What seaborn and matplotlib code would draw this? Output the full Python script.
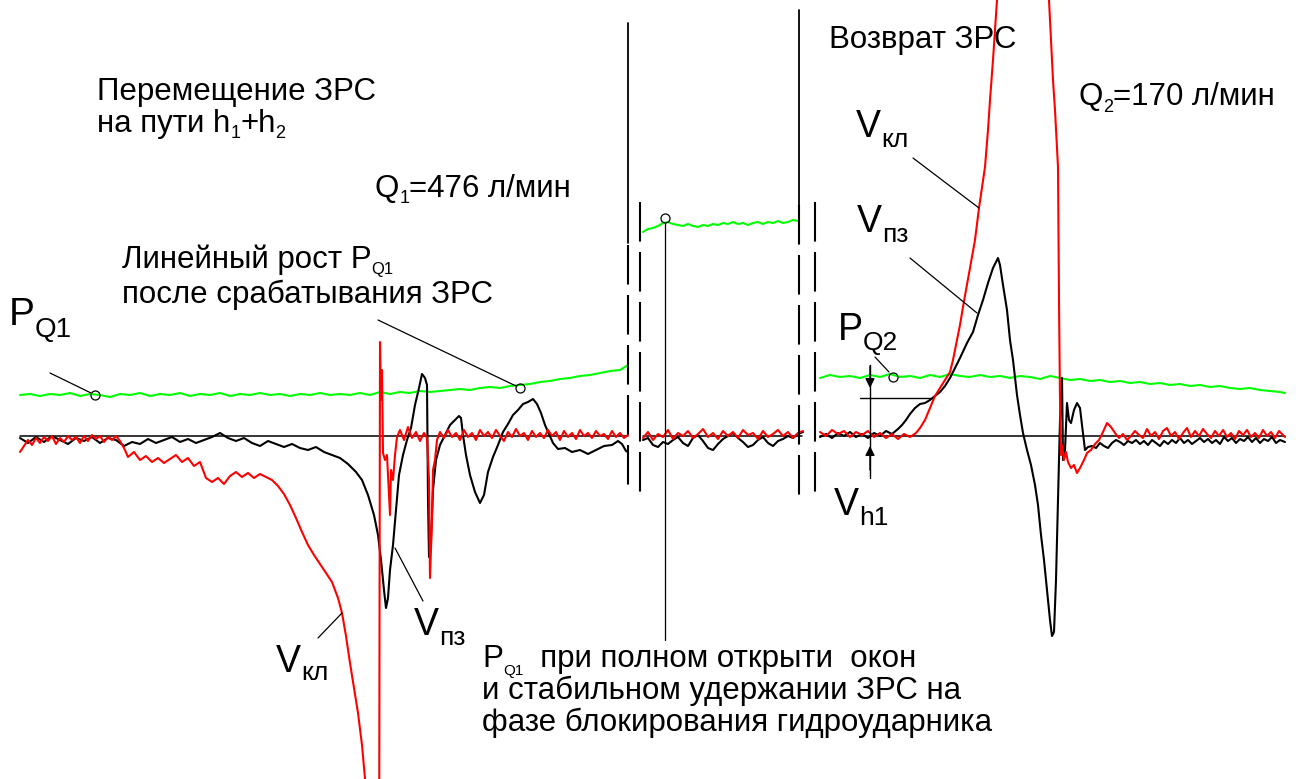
import numpy as np
import pandas as pd
import matplotlib
matplotlib.use("Agg")
import matplotlib.pyplot as plt
import seaborn as sns

# ---------------- DATA: (time, level) samples ----------------
# window 1 (before the break), window 2 (blocking phase), window 3 (return)
green_1 = [(20,395),(30,394),(40,396),(50,394),(60,395),(70,393),(80,396),(90,394),(100,395),(110,397),
           (120,394),(130,395),(140,393),(150,396),(160,394),(170,395),(180,393),(190,396),(200,394),(210,395),
           (220,393),(230,396),(240,394),(250,395),(260,393),(270,395),(280,394),(290,396),(300,394),(310,395),
           (320,393),(330,395),(340,394),(350,395),(360,393),(370,395),(380,392),(390,394),(400,392),(410,393),
           (420,391),(430,392),(440,391),(450,390),(460,389),(470,390),(480,388),(490,387),(500,388),(510,386),
           (520,385),(530,384),(540,382),(550,381),(560,379),(570,378),(580,376),(590,375),(600,373),(610,371),
           (620,370),(628,365)]
black_1 = [(20,438),(28,443),(36,437),(44,442),(52,436),(60,440),(68,444),(76,438),(84,441),(92,437),(100,443),
           (108,438),(116,440),(124,446),(132,442),(140,444),(148,439),(156,443),(164,440),(172,437),(180,442),
           (188,439),(196,443),(204,440),(212,437),(220,433),(228,438),(236,441),(244,438),(252,443),(260,446),
           (268,441),(276,444),(284,447),(292,444),(300,448),(308,450),(316,447),(324,452),(332,455),(340,458),
           (348,464),(356,472),(362,480),(368,495),(374,515),(378,535),(381,560),(384,590),(386,608),(388,598),
           (390,570),(393,545),(396,510),(399,475),(403,455),(407,440),(411,428),(415,405),(419,388),(422,374),
           (425,378),(427,385),(428,500),(429,557),(431,540),(433,490),(436,460),(440,445),(445,435),(450,425),
           (455,420),(459,416),(461,418),(463,435),(466,455),(470,475),(475,492),(480,503),(484,495),(488,472),
           (493,457),(498,445),(503,432),(508,424),(513,415),(518,410),(523,404),(528,402),(533,399),(537,404),
           (541,413),(545,425),(549,434),(553,443),(558,449),(565,448),(572,452),(580,450),(588,454),(596,450),
           (604,446),(612,445),(618,441),(622,444),(626,451),(628,452)]
red_1 = [(20,452),(24,446),(28,440),(32,445),(36,438),(40,443),(44,437),(48,441),(52,436),(56,444),(60,438),
         (64,442),(68,436),(72,440),(76,437),(80,443),(84,436),(88,441),(92,435),(96,439),(100,436),(104,442),
         (108,437),(112,440),(116,436),(120,441),(124,448),(128,457),(134,452),(140,460),(146,456),(152,462),
         (158,458),(164,463),(170,459),(176,455),(182,462),(188,458),(194,466),(200,462),(206,478),(212,482),
         (218,478),(224,484),(230,476),(236,472),(242,477),(248,473),(254,478),(260,474),(266,477),(272,480),
         (278,486),(284,494),(290,505),(296,518),(302,532),(308,545),(314,555),(320,564),(326,573),(332,582),
         (338,598),(342,613),(346,636),(350,663),(354,688),(358,713),(362,745),(365,778),(370,860),(378,950),
         (379,950),(380,342),(381,400),(382,370),(383,453),(385,460),(387,455),(388,475),(390,515),(391,470),
         (393,480),(395,455),(397,437),(400,430),(404,440),(408,427),(412,438),(416,432),(420,441),(424,433),
         (427,438),(429,480),(430,578),(432,520),(433,470),(435,460),(437,440),(440,432),(444,438),(448,430),
         (452,437),(456,433),(460,440),(464,430),(468,437),(472,433),(476,440),(480,430),(484,436),(488,432),
         (492,438),(496,430),(500,436),(504,441),(508,432),(512,437),(516,429),(520,436),(524,433),(528,440),
         (532,431),(536,437),(540,433),(544,438),(548,430),(552,436),(556,432),(560,440),(564,431),(568,437),
         (572,433),(576,439),(580,430),(584,436),(588,433),(592,438),(596,431),(600,436),(604,434),(608,439),
         (612,431),(616,437),(620,433),(624,438),(628,435)]

green_2 = [(643,232),(648,229),(653,228),(658,226),(663,223),(668,222),(673,224),(678,225),(683,226),(688,224),
           (693,226),(698,227),(703,225),(708,226),(713,224),(718,225),(723,223),(728,224),(733,222),(738,224),
           (743,223),(748,225),(753,223),(758,222),(763,224),(768,222),(773,223),(778,221),(783,223),(788,222),
           (793,220),(798,221)]
t_2 = list(range(643, 804, 5))
black_2 = [440,438,445,447,442,444,440,437,443,446,438,435,441,448,450,444,439,436,433,438,442,447,445,440,
           437,443,446,441,439,436,438,434,432]
red_2 = [438,432,440,434,437,430,439,433,436,431,438,434,429,437,433,439,431,436,432,438,430,435,433,439,
         431,437,434,430,436,432,438,433,431]

green_3 = [(820,378),(830,375),(840,377),(850,376),(860,378),(870,375),(880,377),(890,374),(900,377),(910,376),
           (920,378),(930,375),(940,377),(950,374),(960,376),(970,377),(980,375),(990,377),(1000,376),(1010,378),
           (1020,376),(1030,377),(1040,379),(1050,376),(1060,378),(1070,380),(1080,379),(1090,381),(1100,380),
           (1110,382),(1120,381),(1130,383),(1140,382),(1150,384),(1160,383),(1170,385),(1180,384),(1190,386),
           (1200,385),(1210,387),(1220,386),(1230,388),(1240,389),(1250,388),(1260,390),(1270,391),(1280,392),
           (1285,393)]
black_3 = [(820,437),(826,434),(832,438),(838,433),(844,436),(850,432),(856,437),(862,434),(868,438),(874,433),
           (880,436),(886,431),(892,434),(898,429),(902,425),(906,420),(910,414),(915,408),(920,404),(925,403),
           (930,400),(935,396),(940,392),(945,386),(950,378),(955,368),(960,358),(967,343),(973,332),(978,315),
           (983,300),(988,283),(993,268),(998,258),(1000,265),(1003,285),(1007,310),(1010,340),(1013,360),
           (1017,395),(1020,415),(1023,433),(1027,450),(1031,465),(1035,485),(1038,505),(1041,535),(1044,560),
           (1047,590),(1050,620),(1052,636),(1054,632),(1056,580),(1058,500),(1060,420),(1062,378),(1063,460),
           (1065,450),(1067,403),(1069,420),(1071,423),(1074,410),(1077,403),(1080,408),(1082,425),(1085,450),
           (1088,447),(1092,446),(1096,448),(1100,443),(1104,446),(1108,448),(1112,443),(1116,440),(1120,442),
           (1124,445),(1128,441),(1132,443),(1136,440),(1140,444),(1144,441),(1148,445),(1152,440),(1156,443),
           (1160,446),(1164,441),(1168,444),(1172,440),(1176,443),(1180,438),(1184,443),(1188,440),(1192,444),
           (1196,441),(1200,438),(1204,442),(1208,439),(1212,443),(1216,440),(1220,444),(1224,437),(1228,441),
           (1232,438),(1236,443),(1240,439),(1244,441),(1248,437),(1252,442),(1256,438),(1260,443),(1264,439),
           (1268,441),(1272,437),(1276,443),(1280,440),(1285,442)]
red_3 = [(820,432),(826,436),(832,430),(838,434),(844,431),(850,437),(856,432),(862,435),(868,431),(874,437),
         (880,433),(886,438),(892,434),(898,439),(904,434),(910,437),(916,433),(920,428),(925,420),(930,408),
         (935,396),(940,388),(945,380),(950,372),(953,360),(956,345),(960,325),(963,307),(966,290),(970,268),
         (975,240),(979,208),(985,167),(988,130),(990,100),(993,60),(995,30),(997,0),(1000,-200),(1045,-200),
         (1049,0),(1051,40),(1053,80),(1055,110),(1058,167),(1059,300),(1060,400),(1061,455),(1062,445),
         (1064,460),(1066,452),(1068,462),(1071,468),(1074,465),(1077,473),(1080,468),(1084,460),(1087,453),
         (1091,450),(1095,444),(1099,440),(1103,432),(1107,423),(1111,427),(1115,433),(1119,438),(1123,434),
         (1127,440),(1131,436),(1135,431),(1139,435),(1143,438),(1147,429),(1151,436),(1155,432),(1159,439),
         (1163,431),(1167,428),(1171,436),(1175,432),(1179,439),(1183,433),(1187,428),(1191,437),(1195,431),
         (1199,436),(1203,429),(1207,434),(1211,438),(1215,431),(1219,436),(1223,430),(1227,437),(1231,433),
         (1235,439),(1239,431),(1243,435),(1247,430),(1251,437),(1255,433),(1259,438),(1263,430),(1267,436),
         (1271,432),(1275,438),(1279,431),(1285,437)]

zero_level = 436
windows = [(20, 628), (643, 802), (820, 1285)]

# annotation anchors (circles) and leader lines
circles = [(95, 395), (520, 388), (665, 218), (893, 377)]
leaders = [((50, 373), (91, 393)), ((378, 320), (516, 386)), ((913, 158), (979, 208)),
           ((910, 258), (977, 313)), ((875, 357), (889, 372)), ((318, 638), (342, 613)),
           ((395, 548), (423, 601)), ((665, 223), (665, 640))]
solid_marks = [(628, 23, 243), (799, 10, 205)]
dashed_marks = [(628, 245, 495), (640, 202, 495), (799, 205, 495), (815, 202, 495)]

# ---------------- FIGURE ----------------
sns.set_style("white")
FONT = ["Liberation Sans", "DejaVu Sans"]
plt.rcParams["font.family"] = FONT
plt.rcParams["text.color"] = "black"

W, H = 1301, 779
fig = plt.figure(figsize=(W / 100, H / 100), dpi=100)
ax = fig.add_axes([0, 0, 1, 1])
ax.set_xlim(0, W)
ax.set_ylim(H, 0)
ax.axis("off")

LW = 1.5
GREEN, RED, BLACK = "#00ff00", "#ff0000", "#000000"


def trace(pairs, color):
    df = pd.DataFrame(pairs, columns=["t", "v"])
    sns.lineplot(data=df, x="t", y="v", color=color, lw=LW, sort=False, estimator=None, ax=ax,
                 legend=False)


# baseline (zero level) in each window
for a, b in windows:
    ax.plot([a, b], [zero_level, zero_level], color=BLACK, lw=1.1, zorder=1)

trace(green_1, GREEN)
trace(green_2, GREEN)
trace(green_3, GREEN)
trace(black_1, BLACK)
trace(list(zip(t_2, black_2)), BLACK)
trace(black_3, BLACK)
trace(red_1, RED)
trace(list(zip(t_2, red_2)), RED)
trace(red_3, RED)

# break marks
for x, y0, y1 in solid_marks:
    ax.plot([x, x], [y0, y1], color=BLACK, lw=1.3)
for x, y0, y1 in dashed_marks:
    ax.plot([x, x], [y0, y1], color=BLACK, lw=1.5, linestyle=(0, (19, 5)))

# leader lines and circles
for (x0, y0), (x1, y1) in leaders:
    ax.plot([x0, x1], [y0, y1], color=BLACK, lw=0.9)
for cx, cy in circles:
    ax.plot([cx], [cy], marker="o", ms=6.5, mfc="none", mec=BLACK, mew=0.9)

# V_h1 dimension marker
ax.plot([870, 870], [365, 478], color=BLACK, lw=1.0)
ax.plot([860, 932], [398, 398], color=BLACK, lw=1.0)
ax.annotate("", xy=(870, 388), xytext=(870, 366),
            arrowprops=dict(arrowstyle="-|>", color=BLACK, lw=1.0, mutation_scale=14, shrinkA=0, shrinkB=0))
ax.annotate("", xy=(870, 446), xytext=(870, 470),
            arrowprops=dict(arrowstyle="-|>", color=BLACK, lw=1.0, mutation_scale=14, shrinkA=0, shrinkB=0))

# ---------------- TEXT ----------------
renderer = fig.canvas.get_renderer()


def runs(x, y, pieces):
    for s, size, dy in pieces:
        t = ax.text(x, y + dy, s, fontsize=size, va="baseline", ha="left", family=FONT, color="black")
        x += t.get_window_extent(renderer=renderer).width


B, BS = 22.5, 13      # body text and its subscripts
G, GS = 27, 19        # big symbol labels and their subscripts

runs(97, 100, [("Перемещение ЗРС", B, 0)])
runs(97, 132, [("на пути h", B, 0), ("1", BS, 6), ("+h", B, 0), ("2", BS, 6)])
runs(375, 197, [("Q", B, 0), ("1", BS, 6), ("=476 л/мин", B, 0)])
runs(122, 268, [("Линейный рост P", B, 0), ("Q1", BS - 1, 6)])
runs(122, 303, [("после срабатывания ЗРС", B, 0)])
runs(9, 325, [("P", G + 1, 0), ("Q1", GS + 1, 12)])
runs(829, 48, [("Возврат ЗРС", B, 0)])
runs(1079, 105, [("Q", B, 0), ("2", BS, 7), ("=170 л/мин", B, 0)])
runs(856, 137, [("V", G, 0), ("кл", GS, 10)])
runs(857, 232, [("V", G, 0), ("пз", GS, 10)])
runs(838, 340, [("P", G, 0), ("Q2", GS, 10)])
runs(834, 515, [("V", G, 0), ("h1", GS, 10)])
runs(276, 672, [("V", G, 0), ("кл", GS, 8)])
runs(414, 635, [("V", G, 0), ("пз", GS, 10)])
runs(482, 667, [("P", B, 0), ("Q1", BS - 2, 8), ("  при полном открыти  окон", B, 0)])
runs(482, 699, [("и стабильном удержании ЗРС на", B, 0)])
runs(482, 731, [("фазе блокирования гидроударника", B, 0)])

fig.savefig("out.png", dpi=100, facecolor="white")
